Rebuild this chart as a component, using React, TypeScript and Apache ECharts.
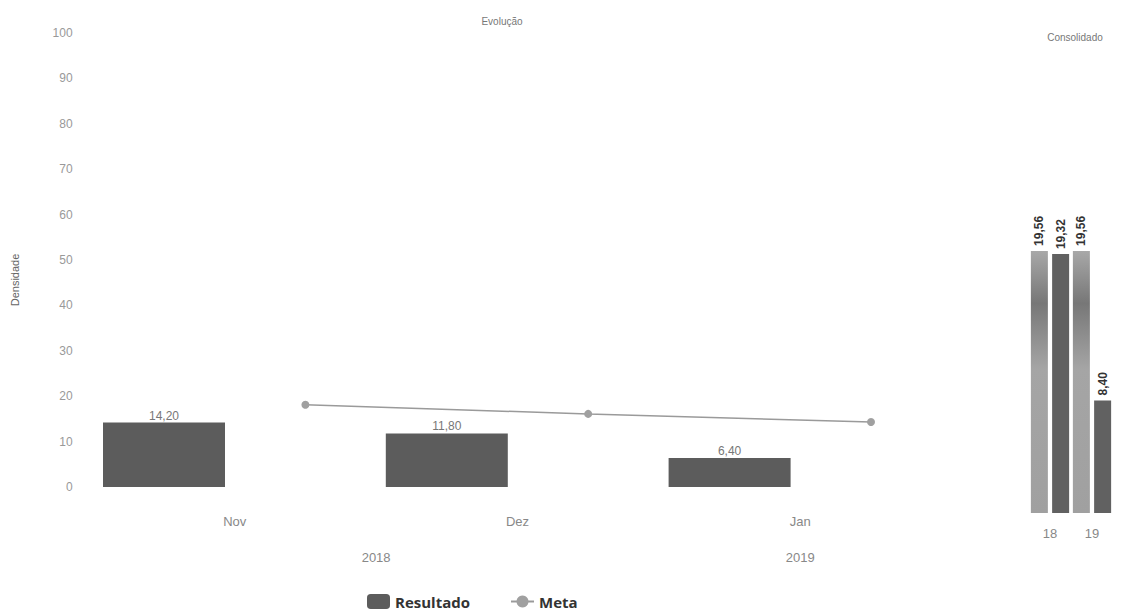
import React, { useEffect, useRef } from "react";
import * as echarts from "echarts";

// ---- data ----
const months = ["Nov", "Dez", "Jan"];
const years = ["2018", "2019"];
const resultado = [14.2, 11.8, 6.4];
const meta = [18.1, 16.1, 14.3];
const consolidadoCats = ["18", "19"];
const consolidadoMeta = [19.56, 19.56];
const consolidadoResultado = [19.32, 8.4];

// layout helpers: 4 slots per month on a 13-tick category axis
const SLOTS = months.length * 4 + 1;
const slotNames = Array.from({ length: SLOTS }, (_, i) => String(i));
const barSeries = slotNames.map(() => null as number | null);
resultado.forEach((v, i) => (barSeries[4 * i + 2] = v));
const lineSeries = slotNames.map(() => null as number | null);
meta.forEach((v, i) => (lineSeries[4 * i + 4] = v));
const monthLabels = slotNames.map(() => "");
months.forEach((m, i) => (monthLabels[4 * i + 3] = m));
const yearLabels = slotNames.map(() => "");
yearLabels[5] = years[0];
yearLabels[11] = years[1];

const fmt = (v: number) => v.toFixed(2).replace(".", ",");

export default function App() {
  const ref = useRef<HTMLDivElement>(null);
  useEffect(() => {
    if (!ref.current) return;
    const chart = echarts.init(ref.current, null, { renderer: "svg" });
    const gray = "#999";
    const vLabel = {
      show: true,
      position: "top",
      rotate: 90,
      align: "left",
      verticalAlign: "middle",
      distance: 5,
      color: "#333",
      fontWeight: "bold",
      fontSize: 12,
      formatter: (p: any) => fmt(p.value),
    };
    chart.setOption({
      animation: false,
      backgroundColor: "#fff",
      textStyle: { fontFamily: "Liberation Sans, Arial, sans-serif" },
      title: [
        {
          text: "Evolução",
          left: 497,
          top: 11,
          textAlign: "center",
          textStyle: { fontSize: 10, fontWeight: "normal", color: "#777" },
        },
        {
          text: "Consolidado",
          left: 1070,
          top: 27,
          textAlign: "center",
          textStyle: { fontSize: 10, fontWeight: "normal", color: "#777" },
        },
      ],
      legend: {
        data: ["Resultado", "Meta"],
        left: 367,
        top: 594,
        itemWidth: 23,
        itemHeight: 15,
        itemGap: 40,
        padding: 0,
        textStyle: {
          fontFamily: "Open Sans, sans-serif",
          fontWeight: "bold",
          fontSize: 15,
          color: "#333",
        },
      },
      grid: [
        { left: 22.6, right: 260, top: 33, bottom: 129 },
        { left: 1029, right: 18, top: 178, bottom: 103 },
      ],
      xAxis: [
        {
          gridIndex: 0,
          type: "category",
          data: slotNames,
          boundaryGap: false,
          position: "bottom",
          axisLine: { show: false },
          axisTick: { show: false },
          splitLine: { show: false },
          axisLabel: {
            interval: 0,
            margin: 28,
            color: "#888",
            fontSize: 13,
            formatter: (_v: string, i: number) => monthLabels[i],
          },
        },
        {
          gridIndex: 0,
          type: "category",
          data: slotNames,
          boundaryGap: false,
          position: "bottom",
          axisLine: { show: false },
          axisTick: { show: false },
          splitLine: { show: false },
          axisLabel: {
            interval: 0,
            margin: 64,
            color: "#888",
            fontSize: 13,
            formatter: (_v: string, i: number) => yearLabels[i],
          },
        },
        {
          gridIndex: 1,
          type: "category",
          data: consolidadoCats,
          axisLine: { show: false },
          axisTick: { show: false },
          axisLabel: { margin: 14, color: "#888", fontSize: 13 },
        },
      ],
      yAxis: [
        {
          gridIndex: 0,
          type: "value",
          min: 0,
          max: 100,
          interval: 10,
          offset: -58,
          axisLine: { show: false },
          axisTick: { show: false },
          splitLine: { show: false },
          axisLabel: { color: gray, fontSize: 12, margin: 8 },
          name: "Densidade",
          nameLocation: "middle",
          nameGap: 60,
          nameTextStyle: { color: "#666", fontSize: 11, padding: [0, 40, 0, 0] },
        },
        {
          gridIndex: 1,
          type: "value",
          min: 0,
          max: 25,
          show: false,
        },
      ],
      series: [
        {
          name: "Resultado",
          type: "bar",
          xAxisIndex: 0,
          yAxisIndex: 0,
          data: barSeries,
          barWidth: 122,
          itemStyle: { color: "#5c5c5c" },
          label: {
            show: true,
            position: "top",
            distance: 1,
            color: "#777",
            fontSize: 12,
            formatter: (p: any) => fmt(p.value),
          },
        },
        {
          name: "Meta",
          type: "line",
          xAxisIndex: 0,
          yAxisIndex: 0,
          data: lineSeries,
          connectNulls: true,
          symbol: "circle",
          symbolSize: 8,
          lineStyle: { color: "#9a9a9a", width: 1.5 },
          itemStyle: { color: "#a0a0a0" },
        },
        {
          name: "Meta consolidado",
          type: "bar",
          xAxisIndex: 2,
          yAxisIndex: 1,
          data: consolidadoMeta,
          barWidth: 17,
          barGap: "25%",
          itemStyle: {
            color: new echarts.graphic.LinearGradient(0, 0, 0, 1, [
              { offset: 0, color: "#a8a8a8" },
              { offset: 0.2, color: "#777" },
              { offset: 0.45, color: "#a5a5a5" },
              { offset: 1, color: "#a0a0a0" },
            ]),
          },
          label: vLabel,
        },
        {
          name: "Resultado consolidado",
          type: "bar",
          xAxisIndex: 2,
          yAxisIndex: 1,
          data: consolidadoResultado,
          barWidth: 17,
          barGap: "25%",
          itemStyle: { color: "#616161" },
          label: vLabel,
        },
      ],
    });
    return () => chart.dispose();
  }, []);
  return (
    <div
      ref={ref}
      style={{ position: "fixed", left: 0, top: 0, width: 1131, height: 616 }}
    />
  );
}
